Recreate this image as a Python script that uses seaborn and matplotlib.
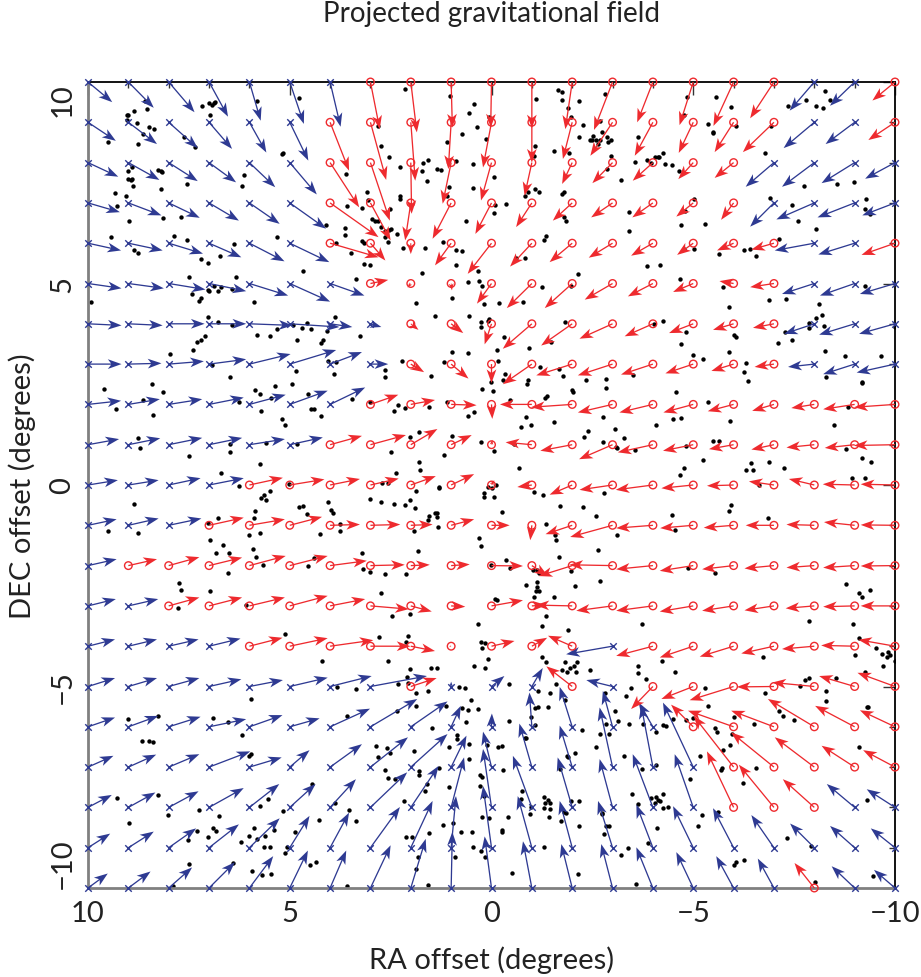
import numpy as np
import pandas as pd
import matplotlib
matplotlib.use("Agg")
import matplotlib.pyplot as plt
import seaborn as sns
from matplotlib.ticker import MultipleLocator, FixedLocator

# Grid of field sample points (degrees)
ra_grid = list(range(10, -11, -1))
dec_grid = list(range(10, -11, -1))

# Projected field vector at each grid node: change in RA and DEC (degrees).
# One row per DEC value (10 -> -10), one entry per RA value (10 -> -10).
d_ra = [
    [-.60, -.63, -.64, -.47, -.28, -.35, -.26, -.23, -.15, -.03, .02, 0, .17, .46, .39, .34, .50, .59, .61, .61, .56],
    [-.69, -.71, -.72, -.57, -.42, -.46, -.47, -.39, -.11, .07, .21, 0, .23, .55, .45, .36, .47, .77, .76, .72, .66],
    [-.75, -.77, -.72, -.67, -.64, -.67, -.72, -.48, -.02, .21, .26, .18, .25, .50, .50, .37, .47, .70, .80, .82, .74],
    [-.79, -.82, -.77, -.74, -.75, -.90, -1.20, -.50, .14, .46, .40, .39, .48, .53, .51, .42, .31, .59, .94, .92, .81],
    [-.82, -.85, -.85, -.80, -.87, -.98, -1.20, -.37, 0, .40, .59, .54, .56, .59, .54, .40, .41, .56, .98, .90, .83],
    [-.83, -.88, -.91, -.92, -.96, -1.00, -.85, -.44, .08, -.02, .36, .62, .68, .69, .62, .50, .35, .59, .80, .86, .87],
    [-.83, -.85, -.89, -.92, -1.07, -1.23, -.55, -.27, -.19, -.30, .17, .72, .77, .82, .70, .60, .51, .52, .75, .88, .89],
    [-.83, -.82, -.87, -.92, -1.02, -1.15, -.79, -.44, -.33, -.43, 0, .72, .89, .86, .79, .69, .55, .48, .65, .78, .95],
    [-.82, -.78, -.83, -.86, -.90, -.94, -.87, -.69, -.60, -.63, -.02, .79, 1.02, .86, .83, .74, .64, .54, .57, .78, 1.01],
    [-.77, -.79, -.83, -.82, -.88, -.82, -.79, -.88, -.66, -.51, -.02, .65, .79, .83, .87, .75, .61, .56, .69, .74, 1.02],
    [-.74, -.75, -.79, -.86, -.83, -.86, -.74, -.70, -.62, -.57, -.07, .36, .56, .82, .92, .79, .66, .62, .63, .79, .85],
    [-.71, -.75, -.81, -.86, -.88, -.80, -.74, -.74, -.54, -.57, -.45, .04, .66, 1.05, .91, .82, .74, .70, .69, .76, .85],
    [-.71, -.71, -.76, -.82, -.90, -.94, -.91, -.85, -.47, -.46, -.78, -.40, .83, 1.07, .91, .83, .78, .73, .69, .78, .85],
    [-.69, -.74, -.76, -.82, -.88, -.94, -.87, -.95, -.52, -.35, -.78, -.36, .91, .90, .91, .83, .78, .73, .71, .78, .85],
    [-.67, -.71, -.74, -.78, -.82, -.94, -1.07, -.99, -.60, .05, -.57, -.38, .60, 1.15, .91, .83, .84, .81, .80, .83, .91],
    [-.67, -.71, -.76, -.80, -.83, -.94, -1.03, -1.40, -.64, 0, -.32, -.27, .64, .65, .54, .79, 1.09, .92, 1.04, .88, .93],
    [-.67, -.74, -.79, -.92, -.82, -.74, -.99, -1.16, -.91, -.24, -.01, .06, .31, .24, .35, .55, 1.13, 1.06, 1.15, .98, .87],
    [-.63, -.69, -.76, -1.02, -.80, -.49, -.79, -.93, -.91, -.38, .21, .31, .31, .32, .29, .75, .99, 1.06, .98, .82, .79],
    [-.59, -.67, -.74, -.86, -.74, -.64, -.64, -.91, -.69, -.32, .21, .47, .36, .32, .50, .46, .66, .87, .78, .69, .70],
    [-.55, -.63, -.68, -.74, -.75, -.49, -.47, -.73, -.54, -.12, .21, .35, .31, .36, .41, .50, .51, .56, .60, .61, .60],
    [-.49, -.55, -.58, -.64, -.59, -.45, -.40, -.50, -.37, -.03, .17, .22, .27, .28, .41, .42, .43, .40, .49, .57, .52],
]
d_dec = [
    [-.50, -.64, -.75, -.86, -.96, -1.04, -1.11, -1.17, -1.25, -1.13, -1.13, -1.15, -1.17, -1.19, -1.00, -1.07, -1.09, -.90, -.71, -.59, -.46],
    [-.46, -.54, -.64, -.66, -.75, -.95, -1.20, -1.43, -1.45, -1.16, -1.12, -1.00, -.91, -.83, -.83, -.76, -.74, -.74, -.64, -.54, -.44],
    [-.35, -.43, -.46, -.49, -.61, -.79, -1.11, -1.44, -1.27, -1.02, -.94, -.82, -.53, -.51, -.45, -.41, -.38, -.60, -.60, -.51, -.40],
    [-.23, -.31, -.37, -.44, -.52, -.64, -.85, -.93, -.93, -.89, -.77, -.60, -.44, -.36, -.36, -.34, -.42, -.59, -.41, -.36, -.31],
    [-.18, -.18, -.26, -.35, -.45, -.47, -.35, -.43, -.27, -.55, -.76, -.58, -.47, -.36, -.31, -.29, -.18, -.16, -.18, -.28, -.29],
    [-.12, -.12, -.15, -.19, -.30, -.45, -.30, .09, -.10, -.17, -.50, -.61, -.61, -.40, -.32, -.21, .06, -.09, -.26, -.30, -.26],
    [-.04, -.04, 0, 0, -.04, -.08, -.08, -.08, -.15, -.23, -.51, -.62, -.54, -.37, -.31, -.23, -.15, -.10, -.25, -.27, -.25],
    [0, .02, .07, .12, .25, .35, .30, 0, -.20, -.36, -.47, -.50, -.28, -.28, -.26, -.23, -.17, -.07, -.07, -.25, -.21],
    [.09, .13, .13, .17, .24, .34, .42, .24, .11, -.02, -.36, 0, -.07, -.20, -.20, -.20, -.17, -.16, -.09, -.12, -.07],
    [.14, .16, .17, .17, .14, .18, .22, .24, .39, .24, .12, .06, -.15, -.36, -.19, -.15, -.11, -.12, -.07, -.08, -.02],
    [.12, .12, .17, .17, .18, .14, .15, .16, .22, .27, .12, -.05, -.24, -.12, -.12, -.08, -.02, .09, .15, .02, .02],
    [.15, .17, .17, .19, .15, .21, .02, .02, .02, .15, 0, -.37, -.22, -.29, -.07, -.07, -.06, 0, .02, .08, .01],
    [.16, .16, .21, .20, .24, .24, .12, .02, .02, .03, -.01, -.26, -.26, .02, -.09, -.13, -.09, -.07, -.05, -.05, -.01],
    [.17, .17, .21, .21, .21, .25, .17, -.08, -.14, -.02, .14, .02, .02, -.12, -.12, -.14, -.12, -.11, -.06, -.02, 0],
    [.17, .17, .17, .19, .21, .20, .15, 0, -.12, 0, .13, .21, .26, -.20, -.24, -.28, -.26, -.18, -.07, .02, .16],
    [.21, .21, .21, .18, .16, .22, .26, .26, .21, .12, .26, .46, .50, .16, -.56, -.31, -.34, -.01, .10, .26, .34],
    [.23, .27, .25, .19, .29, .21, .45, .69, .63, .52, .33, .85, .99, .89, .60, .55, .40, .40, .69, .52, .41],
    [.28, .31, .32, .39, .24, .42, .57, .74, .82, .78, .88, 1.08, 1.03, 1.48, 1.53, 1.60, 1.27, .86, .74, .53, .42],
    [.31, .37, .40, .48, .58, .58, .70, .87, 1.03, 1.24, 1.45, 1.28, 1.24, 1.20, 1.32, 1.32, 1.39, 1.06, .70, .58, .45],
    [.35, .40, .48, .58, .73, .79, .87, 1.01, 1.16, 1.28, 1.53, 1.28, 1.16, 1.16, 1.07, 1.03, .98, .81, .60, .54, .48],
    [.36, .41, .51, .64, .79, .93, .93, 1.06, 1.22, 1.39, 1.28, 1.16, 1.09, 1.09, 1.01, .89, .79, .73, .62, .54, .45],
]
# Node class: "R" = red circle, "B" = blue cross
node_kind = [
    "BBBBBBBRRRRRRRRRRRBBR",
    "BBBBBBRRRRRRRRRRRRBBR",
    "BBBBBBRRRRRRRRRRRBBBB",
    "BBBBBBRRRRRRRRRRRBBBB",
    "BBBBBBRRRRRRRRRRRRBBR",
    "BBBBBBBRRRRRRRRRRRBBB",
    "BBBBBBBBRRRRRRRRRRBBB",
    "BBBBBBBBRRRRRRRRRRBBB",
    "BBBBBBBRRRRRRRRRRRRRR",
    "BBBBBBRRRRRRRRRRRRRRR",
    "BBBBRRRRRRRRRRRRRRRRR",
    "BBBRRRRRRRRRRRRRRRRRR",
    "BRRRRRRRRRRRRRRRRRRRR",
    "BBRRRRRRRRRRRRRRRRRRR",
    "BBBBRRRRRRRRRBRRRRRRR",
    "BBBBBBBBRBBBRBRRRRRRR",
    "BBBBBBBBBBBBBBBRRRRRR",
    "BBBBBBBBBBBBBBBBRRRRR",
    "BBBBBBBBBBBBBBBBRRRBB",
    "BBBBBBBBBBBBBBBBBBBBB",
    "BBBBBBBBBBBBBBBBBBRBB",
]

# Galaxy positions (RA, DEC) in degrees
galaxies_north = [
    (8.59, 9.54), (8.55, 9.33), (8.85, 9.27), (9.00, 9.19), (9.04, 9.17), (9.04, 9.06), (8.79, 8.98),
    (8.50, 8.88), (8.36, 8.83), (8.64, 8.71), (8.75, 8.45), (9.50, 8.51), (7.18, 9.41), (7.00, 9.47),
    (6.93, 9.44), (6.87, 9.47), (6.85, 9.50), (6.98, 9.19), (5.82, 9.52), (4.77, 9.60), (7.61, 8.64),
    (7.36, 8.38), (5.20, 8.21), (5.17, 8.24), (9.00, 7.80), (8.92, 7.88), (9.00, 7.60), (8.93, 7.57),
    (8.90, 7.60), (8.89, 7.43), (8.27, 7.82), (8.20, 7.79), (8.16, 7.76), (8.19, 7.35), (9.33, 7.25),
    (9.06, 7.18), (7.55, 7.47), (6.19, 7.43), (6.13, 7.70), (9.29, 6.92), (8.98, 6.56), (8.13, 6.62),
    (7.69, 6.66), (4.11, 6.45), (3.61, 7.72), (3.59, 6.92), (3.64, 6.38), (3.63, 6.21), (9.43, 6.15),
    (8.85, 5.82), (8.75, 5.76), (7.87, 6.19), (7.55, 6.09), (7.21, 5.62), (7.02, 5.52), (6.72, 5.67),
    (6.38, 5.98), (5.31, 6.15), (4.68, 5.31), (7.49, 5.16), (6.33, 5.16), (3.85, 6.00), (3.48, 5.76),
    (3.36, 5.12),
    (2.15, 9.83), (1.02, 9.66), (0.44, 9.45), (0.55, 9.22), (0.07, 9.14), (0.37, 8.88), (0.73, 8.71),
    (1.10, 8.50), (0.13, 8.58), (2.81, 8.92), (2.75, 8.40), (2.55, 8.13), (2.27, 7.88), (1.70, 8.00),
    (1.58, 8.07), (1.72, 7.80), (1.60, 7.55), (1.35, 7.83), (1.25, 7.82), (0.89, 8.03), (0.46, 7.97),
    (-0.07, 7.64), (0.46, 7.36), (1.06, 7.39), (1.10, 7.16), (2.27, 7.16), (2.26, 7.10), (3.08, 7.26),
    (3.06, 7.06), (3.22, 6.87), (2.96, 6.60), (2.88, 6.56), (2.82, 6.55), (2.73, 6.40), (2.63, 6.31),
    (2.53, 6.33), (2.48, 6.36), (2.52, 6.85), (2.65, 6.15), (2.57, 6.02), (2.34, 6.23), (3.21, 6.05),
    (3.17, 6.01), (3.17, 5.49), (3.00, 5.45), (2.20, 5.88), (1.64, 5.88), (1.21, 6.02), (0.89, 5.82),
    (0.73, 5.80), (0.87, 5.47), (1.72, 5.26), (0.58, 5.03), (0.31, 5.07), (0.23, 4.93), (0.33, 5.31),
    (0.63, 6.54), (-0.06, 6.74), (-0.35, 6.98), (-0.08, 6.96), (-1.11, 9.58), (-1.09, 8.42), (-1.05, 8.17),
    (-0.90, 7.26), (-1.09, 7.35), (-1.17, 7.26), (-0.84, 7.16), (-1.55, 8.30), (-1.93, 8.24), (-1.65, 9.80),
    (-1.74, 9.74), (-1.74, 9.55), (-2.17, 9.52), (-1.90, 9.36), (-1.98, 9.12), (-2.27, 8.94), (-2.17, 8.64),
    (-2.52, 8.67), (-2.44, 8.56), (-2.48, 8.55), (-2.60, 8.56), (-2.64, 8.46), (-2.69, 8.55), (-2.74, 8.75),
    (-2.87, 8.63), (-2.89, 8.50), (-2.95, 8.55), (-2.69, 9.04), (-2.81, 9.70), (-2.97, 8.17), (-2.87, 7.84),
    (-3.22, 7.57), (-1.75, 7.22), (-1.79, 7.26), (-1.79, 6.66), (-1.85, 6.54), (-3.42, 6.77), (-1.36, 6.17),
    (-1.31, 6.07), (-0.60, 5.64), (-0.82, 5.64), (-2.15, 5.24), (-1.24, 4.91),
    (-4.84, 9.62), (-5.57, 9.64), (-5.94, 9.39), (-4.77, 9.19), (-5.37, 8.96), (-5.49, 8.75), (-5.50, 8.74),
    (-6.07, 8.90), (-3.62, 8.63), (-6.79, 8.24), (-6.93, 8.92), (-7.79, 9.55), (-8.26, 9.77), (-7.35, 9.41),
    (-8.05, 9.40), (-8.21, 9.35), (-8.40, 9.55), (-3.56, 8.01), (-3.86, 8.07), (-3.96, 7.99), (-4.06, 8.15),
    (-4.12, 8.15), (-4.15, 8.15), (-4.25, 8.25), (-4.31, 7.97), (-4.48, 7.95), (-4.64, 7.80), (-7.74, 7.43),
    (-8.56, 7.47), (-8.98, 7.51), (-3.40, 6.31), (-5.03, 7.10), (-4.79, 6.79), (-4.70, 6.46), (-5.28, 6.48),
    (-6.91, 7.12), (-7.45, 6.95), (-7.60, 6.56), (-8.05, 6.36), (-9.29, 7.10), (-9.25, 6.85), (-9.39, 6.73),
    (-7.12, 6.11), (-6.27, 5.83), (-6.40, 5.86), (-6.55, 5.69), (-4.77, 5.86), (-5.02, 5.86), (-5.65, 5.74),
    (-3.86, 5.43), (-4.17, 5.46), (-4.66, 5.12), (-5.74, 4.91), (-9.25, 4.95),
]
galaxies_middle = [
    (9.93, 4.55), (7.43, 4.73), (7.20, 4.64), (7.26, 4.56), (7.02, 4.84), (6.99, 4.81), (6.87, 4.93),
    (6.77, 4.81), (6.71, 4.91), (6.44, 4.87), (5.88, 4.54), (7.02, 4.17), (6.79, 4.04), (6.42, 3.96),
    (5.82, 3.71), (5.50, 3.69), (5.32, 3.88), (4.93, 3.96), (4.81, 3.60), (4.70, 3.90), (4.58, 4.02),
    (4.47, 3.88), (4.22, 3.52), (4.17, 3.60), (4.08, 3.83), (3.89, 4.18), (7.31, 3.55), (7.20, 3.60),
    (7.10, 3.69), (7.41, 3.34), (7.97, 3.24), (6.93, 2.99), (6.48, 2.68), (4.85, 2.82), (4.06, 3.07),
    (3.85, 3.05), (3.90, 2.76), (3.26, 3.69), (9.60, 2.39), (9.31, 1.88), (8.42, 2.50), (8.63, 2.10),
    (8.13, 2.32), (8.40, 1.74), (6.26, 2.06), (5.86, 2.35), (5.74, 2.25), (5.72, 1.83), (5.47, 2.16),
    (5.36, 2.45), (4.95, 2.50), (5.20, 1.63), (5.13, 1.48), (4.55, 2.26), (4.47, 1.88), (4.39, 1.88),
    (4.23, 1.70), (3.46, 2.14), (8.75, 1.17), (8.70, 0.93), (7.49, 0.72), (6.48, 1.02), (6.48, 0.82),
    (5.59, 1.05), (4.83, 1.01), (5.74, 0.51), (6.71, 0.31), (6.25, -0.02),
    (-1.98, 4.93), (1.88, 4.52), (0.99, 4.63), (0.19, 4.49), (-0.18, 4.52), (-0.78, 4.55), (1.39, 4.19),
    (0.56, 4.19), (0.26, 4.05), (0.26, 3.91), (0.09, 4.07), (0.07, 4.11), (-0.31, 3.68), (-1.83, 4.05),
    (-1.48, 3.55), (-0.94, 3.41), (-0.14, 3.35), (0.98, 3.31), (0.58, 3.28), (1.18, 3.06), (2.21, 3.08),
    (2.63, 2.85), (2.63, 2.67), (1.49, 2.71), (-0.17, 3.08), (-0.33, 2.75), (-0.28, 2.60), (0.01, 2.56),
    (-0.90, 2.60), (-0.87, 2.50), (-1.21, 2.92), (-1.67, 2.87), (-1.77, 2.71), (0.23, 2.37), (-0.03, 2.34),
    (-2.00, 2.36), (-2.02, 2.30), (-2.33, 2.60), (-2.83, 2.62), (-2.84, 2.40), (-1.38, 2.21), (-1.32, 2.15),
    (-0.45, 2.12), (3.00, 2.07), (2.31, 1.98), (2.42, 1.84), (2.15, 1.90), (1.55, 1.93), (1.10, 2.05),
    (0.58, 1.72), (0.44, 1.82), (-0.86, 1.69), (-0.97, 1.49), (-0.74, 1.45), (-1.56, 1.57), (-2.77, 1.68),
    (-3.06, 1.38), (-3.28, 1.17), (-2.29, 1.20), (-2.39, 1.33), (-2.76, 1.06), (-3.09, 0.95), (-3.11, 0.93),
    (2.01, 1.18), (1.79, 1.32), (0.98, 1.22), (2.49, 0.81), (1.18, 0.74), (0.27, 1.07), (-0.06, 0.85),
    (-0.55, 1.02), (-0.68, 0.43), (1.80, 0.56), (1.78, 0.37), (2.36, 0.29), (2.71, 0.04), (2.56, 0.06),
    (1.31, -0.04), (0.08, -0.04), (-0.10, 0.00), (0.00, -0.08),
    (-6.88, 4.60), (-7.31, 4.62), (-5.88, 4.41), (-8.12, 4.48), (-8.18, 4.21), (-8.05, 4.14), (-7.87, 4.02),
    (-7.86, 3.90), (-8.24, 3.94), (-7.45, 3.60), (-7.10, 3.52), (-7.28, 3.79), (-4.25, 4.06), (-4.02, 4.00),
    (-4.81, 3.79), (-4.69, 3.49), (-6.02, 3.71), (-6.05, 3.67), (-5.88, 3.31), (-4.99, 3.23), (-5.24, 3.12),
    (-6.31, 3.02), (-6.26, 2.80), (-6.36, 2.57), (-3.50, 2.74), (-8.26, 3.32), (-8.75, 3.19), (-9.66, 3.21),
    (-8.30, 2.68), (-9.19, 2.55), (-9.17, 2.53), (-4.58, 2.31), (-5.37, 2.07), (-4.50, 1.63), (-4.70, 1.67),
    (-4.08, 1.50), (-5.92, 1.58), (-8.50, 1.50), (-8.83, 1.93), (-3.55, 0.88), (-4.81, 0.96), (-5.48, 1.09),
    (-5.64, 1.08), (-5.23, 0.63), (-4.77, 0.43), (-4.66, 0.24), (-6.31, 0.38), (-6.43, 0.55), (-6.48, 0.38),
    (-6.88, 0.57), (-7.25, 0.43), (-8.79, 0.90), (-9.17, 0.67), (-9.41, 0.57), (-8.94, 0.18), (-9.25, 0.17),
    (-6.64, -0.01), (-9.99, 3.92),
    (5.03, 0.02), (8.85, -0.47), (9.51, -1.15), (8.75, -1.20), (5.71, -0.32), (5.64, -0.25), (5.59, -0.37),
    (5.49, -0.16), (5.86, -0.65), (5.88, -0.82), (6.02, -1.23), (5.73, -1.18), (5.90, -1.59), (5.84, -1.79),
    (5.67, -1.98), (6.79, -0.83), (7.02, -0.95), (6.98, -1.36), (6.65, -1.50), (6.83, -1.69), (6.50, -1.69),
    (6.52, -2.18), (4.77, -0.55), (4.68, -0.51), (4.58, -0.72), (4.06, -0.43), (3.98, -0.62), (3.92, -0.69),
    (4.26, -1.21), (3.75, -0.98), (3.75, -1.13), (4.39, -1.81), (4.54, -2.00), (7.74, -2.43), (7.70, -2.60),
    (7.76, -3.05), (6.98, -2.64), (6.09, -2.98), (5.13, -3.69), (4.21, -4.36), (3.83, -5.00),
    (1.88, -0.14), (1.31, -0.08), (0.19, -0.21), (0.18, -0.31), (-0.06, -0.29), (-1.05, -0.18), (-1.27, -0.24),
    (3.00, -0.35), (2.75, -0.43), (2.42, -0.47), (2.15, -0.50), (2.01, -0.37), (1.90, -0.57), (-0.26, -0.68),
    (-1.69, -0.53), (-2.27, -0.54), (-2.58, -0.76), (-2.79, -0.21), (1.55, -0.76), (1.57, -0.87), (1.39, -0.70),
    (1.35, -0.70), (1.36, -0.80), (1.33, -1.05), (1.93, -1.13), (-1.36, -0.98), (-1.58, -1.23), (-1.59, -1.36),
    (-3.12, -1.24), (0.31, -1.31), (0.27, -1.52), (1.82, -1.63), (3.22, -1.69), (3.18, -2.08), (3.02, -2.17),
    (2.63, -2.22), (2.12, -2.22), (0.02, -1.98), (-0.37, -1.86), (-0.45, -2.07), (-1.67, -1.78), (-2.64, -1.61),
    (-1.03, -2.12), (-1.13, -2.11), (-1.18, -2.19), (-1.96, -2.14), (-0.86, -2.47), (-1.13, -2.41), (-1.13, -2.52),
    (-1.10, -2.62), (-1.18, -2.64), (-2.06, -2.51), (-2.69, -2.37), (2.75, -2.68), (-0.08, -2.83), (-0.14, -2.85),
    (-1.05, -2.77), (-1.56, -2.77), (2.46, -3.24), (2.03, -3.20), (-1.34, -3.26), (-1.26, -3.49), (-1.90, -3.60),
    (0.34, -3.46), (2.79, -3.76), (2.07, -3.74), (2.13, -3.90), (0.27, -3.90), (0.16, -3.93), (0.23, -4.05),
    (0.09, -4.33), (0.44, -4.50), (0.17, -4.55), (2.56, -4.37), (2.01, -4.56), (1.50, -4.54), (1.34, -4.55),
    (2.09, -4.77), (2.07, -4.92), (-1.24, -4.26), (-1.36, -4.40), (-1.82, -4.38), (-1.94, -4.55), (-2.04, -4.50),
    (-2.11, -4.38), (-1.88, -4.64), (-2.10, -4.64), (-1.74, -4.60), (-2.45, -4.59), (-0.43, -4.93), (-1.60, -4.93),
    (0.81, -5.02), (0.66, -5.04),
    (-5.93, -0.49), (-5.88, -0.65), (-4.48, -0.74), (-4.56, -1.12), (-6.85, -0.83), (-4.87, -2.06), (-5.55, -2.19),
    (-8.78, -2.45), (-9.11, -2.69), (-9.19, -2.77), (-9.39, -2.60), (-3.74, -3.45), (-7.86, -3.38), (-8.96, -3.45),
    (-9.12, -3.80), (-6.73, -4.28), (-9.01, -4.23), (-9.52, -4.05), (-9.69, -4.19), (-9.79, -4.26), (-9.83, -4.15),
    (-9.88, -4.21), (-9.99, -4.37), (-9.70, -4.50), (-3.64, -4.50), (-3.64, -4.67), (-3.83, -4.81), (-4.22, -4.37),
    (-4.55, -4.64), (-3.46, -5.04), (-5.28, -5.04), (-7.65, -4.98), (-7.78, -4.85), (-7.87, -4.79), (-8.55, -4.79),
    (-9.25, -4.63),
]
galaxies_south = [
    (3.36, -5.07), (5.97, -5.31), (9.02, -5.81), (8.26, -5.73), (6.89, -5.79), (6.52, -5.89), (6.19, -6.21),
    (3.57, -5.74), (8.65, -6.36), (8.49, -6.36), (8.38, -6.37), (6.00, -6.72), (5.96, -6.68), (9.29, -7.77),
    (8.27, -7.69), (8.98, -8.39), (8.01, -8.19), (7.26, -8.07), (6.75, -8.21), (4.44, -7.42), (3.89, -7.90),
    (5.55, -7.79), (5.74, -7.96), (5.17, -8.08), (4.27, -8.31), (3.52, -8.06), (3.36, -8.33), (7.29, -8.58),
    (7.51, -8.81), (7.03, -8.74), (6.89, -8.50), (6.83, -8.58), (6.21, -8.85), (6.01, -8.70), (5.88, -8.51),
    (5.80, -8.79), (5.63, -8.99), (5.50, -8.99), (5.61, -8.72), (5.40, -8.56), (5.07, -8.99), (5.12, -9.13),
    (4.88, -8.60), (4.50, -9.42), (4.36, -9.36), (7.50, -9.40), (6.40, -9.38), (5.93, -9.59), (5.68, -9.67),
    (5.46, -9.65), (7.90, -9.96), (3.59, -9.96),
    (2.31, -4.93), (1.88, -5.15), (1.57, -5.11), (1.88, -5.48), (2.34, -5.62), (1.14, -5.48), (0.73, -5.54),
    (0.51, -5.34), (0.58, -5.59), (0.34, -5.55), (0.64, -5.88), (-1.15, -5.12), (-1.46, -5.17), (-1.40, -5.50),
    (-1.07, -5.54), (-1.15, -5.50), (-0.99, -5.75), (-1.07, -5.95), (-1.83, -5.34), (-2.81, -5.17), (-3.06, -5.60),
    (-2.83, -5.93), (-3.40, -5.93), (-3.34, -5.23), (-0.43, -5.85), (1.47, -6.02), (0.86, -6.20), (0.85, -6.31),
    (0.56, -6.43), (0.12, -6.45), (-0.15, -6.49), (-0.25, -6.47), (-0.83, -6.29), (-0.86, -6.29), (-2.25, -6.08),
    (-2.91, -6.17), (-2.69, -6.18), (-2.60, -6.50), (-3.28, -6.72), (-1.88, -6.72), (-1.90, -6.74), (-2.08, -6.66),
    (2.86, -6.47), (2.59, -6.53), (2.52, -6.65), (2.82, -6.76), (1.93, -6.61), (1.06, -6.51), (0.55, -6.80),
    (1.29, -7.03), (1.79, -7.09), (1.79, -7.20), (2.63, -7.07), (2.57, -7.26), (2.38, -7.30), (1.60, -7.42),
    (1.64, -7.60), (1.06, -7.50), (0.28, -7.19), (0.24, -7.24), (0.28, -7.46), (0.19, -7.71), (-0.28, -7.07),
    (-1.71, -7.05), (-0.76, -7.59), (-0.74, -7.79), (-0.98, -7.98), (-0.95, -8.17), (-1.30, -7.74), (-1.32, -7.88),
    (-1.40, -7.82), (-1.44, -7.88), (-1.29, -8.02), (-1.44, -8.04), (-1.43, -8.23), (-1.98, -7.83), (-2.18, -7.83),
    (-1.79, -8.12), (-1.84, -8.15), (-1.73, -8.33), (-2.17, -8.47), (-2.73, -8.15), (-2.75, -8.17), (-2.85, -8.45),
    (-2.92, -8.45), (-2.79, -8.66), (-3.22, -9.17), (-2.15, -9.65), (2.16, -7.85), (2.11, -8.73), (1.98, -8.74),
    (1.82, -9.22), (1.88, -9.53), (1.57, -9.92), (1.55, -8.64), (1.20, -8.43), (0.96, -8.38), (0.75, -8.60),
    (0.48, -8.60), (0.91, -9.22), (0.46, -8.98), (0.25, -9.09), (0.15, -9.22), (0.23, -8.25), (0.05, -8.27),
    (-0.25, -8.56), (-0.26, -8.62), (-0.40, -8.25), (-0.51, -9.64), (-1.30, -8.99),
    (-8.28, -5.11), (-8.28, -5.37), (-6.79, -5.15), (-3.13, -5.85), (-3.75, -5.92), (-4.08, -6.12), (-4.25, -5.96),
    (-4.33, -5.98), (-4.51, -5.81), (-4.81, -5.83), (-4.99, -5.77), (-5.36, -5.48), (-6.01, -5.75), (-5.55, -6.03),
    (-5.60, -6.12), (-5.97, -6.18), (-6.50, -5.92), (-7.12, -5.62), (-7.22, -5.73), (-7.49, -5.83), (-9.31, -5.50),
    (-9.33, -5.51), (-5.90, -6.45), (-5.74, -6.58), (-5.72, -7.01), (-5.70, -7.07), (-5.16, -6.72), (-3.74, -7.05),
    (-4.07, -6.94), (-4.93, -7.30), (-6.23, -7.40), (-6.56, -7.03), (-9.10, -6.51), (-3.49, -7.67), (-3.64, -7.92),
    (-3.96, -7.77), (-4.08, -7.75), (-4.12, -7.82), (-4.17, -7.83), (-4.25, -7.67), (-4.06, -7.90), (-4.25, -8.02),
    (-4.37, -7.98), (-5.22, -8.18), (-5.13, -8.45), (-5.61, -8.12), (-4.11, -8.50), (-3.89, -8.88), (-3.38, -9.01),
    (-7.33, -8.76), (-7.93, -8.97), (-9.31, -7.82), (-6.02, -9.42), (-6.07, -9.36), (-6.27, -9.30), (-9.45, -9.69),
    (-3.59, -9.90), (-8.01, -9.86),
]

# Axis ticks and labels
major_ticks = [10, 5, 0, -5, -10]
tick_text = ["10", "5", "0", "\u22125", "\u221210"]

BLUE = "#2e3a92"
RED = "#ee2a2e"

# Tidy table of the field nodes
rows = []
for i, dec in enumerate(dec_grid):
    for j, ra in enumerate(ra_grid):
        rows.append(dict(ra=ra, dec=dec, d_ra=d_ra[i][j], d_dec=d_dec[i][j], kind=node_kind[i][j]))
field = pd.DataFrame(rows)

gal = pd.DataFrame(galaxies_north + galaxies_middle + galaxies_south, columns=["ra", "dec"])

sns.set_style("white")
plt.rcParams["font.family"] = ["Lato", "DejaVu Sans"]

fig = plt.figure(figsize=(9.21, 9.78), dpi=100)
ax = fig.add_axes([88 / 921, 1 - 889 / 978, 807 / 921, 806 / 978])

# Galaxies
sns.scatterplot(data=gal, x="ra", y="dec", color="black", s=10, linewidth=0, ax=ax, zorder=2, legend=False)

# Field arrows and node markers
for k, col in (("B", BLUE), ("R", RED)):
    sub = field[field["kind"] == k]
    ax.quiver(sub["ra"], sub["dec"], sub["d_ra"], sub["d_dec"], angles="xy", scale_units="xy", scale=1,
              units="dots", width=1.3, headwidth=7.5, headlength=10.5, headaxislength=8.0,
              color=col, zorder=3, clip_on=False)
blue_nodes = field[field["kind"] == "B"]
red_nodes = field[field["kind"] == "R"]
ax.scatter(blue_nodes["ra"], blue_nodes["dec"], marker="x", s=22, linewidths=1.0, color=BLUE,
           zorder=4, clip_on=False)
ax.scatter(red_nodes["ra"], red_nodes["dec"], marker="o", s=30, linewidths=1.0, facecolors="none",
           edgecolors=RED, zorder=4, clip_on=False)

ax.set_xlim(10, -10)
ax.set_ylim(-10, 10)
ax.xaxis.set_major_locator(FixedLocator(major_ticks))
ax.yaxis.set_major_locator(FixedLocator(major_ticks))
ax.xaxis.set_minor_locator(MultipleLocator(1))
ax.yaxis.set_minor_locator(MultipleLocator(1))
ax.tick_params(which="both", direction="in", top=True, right=True, color="#333333", width=1.0)
ax.tick_params(which="major", length=9, pad=9)
ax.tick_params(which="minor", length=4.5)
ax.set_xticklabels(tick_text, fontsize=21, color="#222222")
ax.set_yticklabels(tick_text, fontsize=21, color="#222222", rotation=90, va="center")
for lab, t in zip(ax.get_yticklabels(), major_ticks):
    if t == 10:
        lab.set_va("top")
    elif t == -10:
        lab.set_va("bottom")

for side in ("top", "right"):
    ax.spines[side].set_color("black")
    ax.spines[side].set_linewidth(1.3)
for side in ("left", "bottom"):
    ax.spines[side].set_color("#808080")
    ax.spines[side].set_linewidth(2.0)

ax.set_xlabel("RA offset (degrees)", fontsize=21, va="center", color="#222222")
ax.xaxis.set_label_coords(0.5, -(960 - 889) / 806)
ax.set_ylabel("DEC offset (degrees)", fontsize=21, va="center", color="#222222")
ax.yaxis.set_label_coords(-(88 - 22) / 807, 0.5)
ax.set_title("Projected gravitational field", fontsize=20, y=1 + (83 - 22) / 806, va="center",
             color="#222222")

fig.savefig("out.png", dpi=100)
